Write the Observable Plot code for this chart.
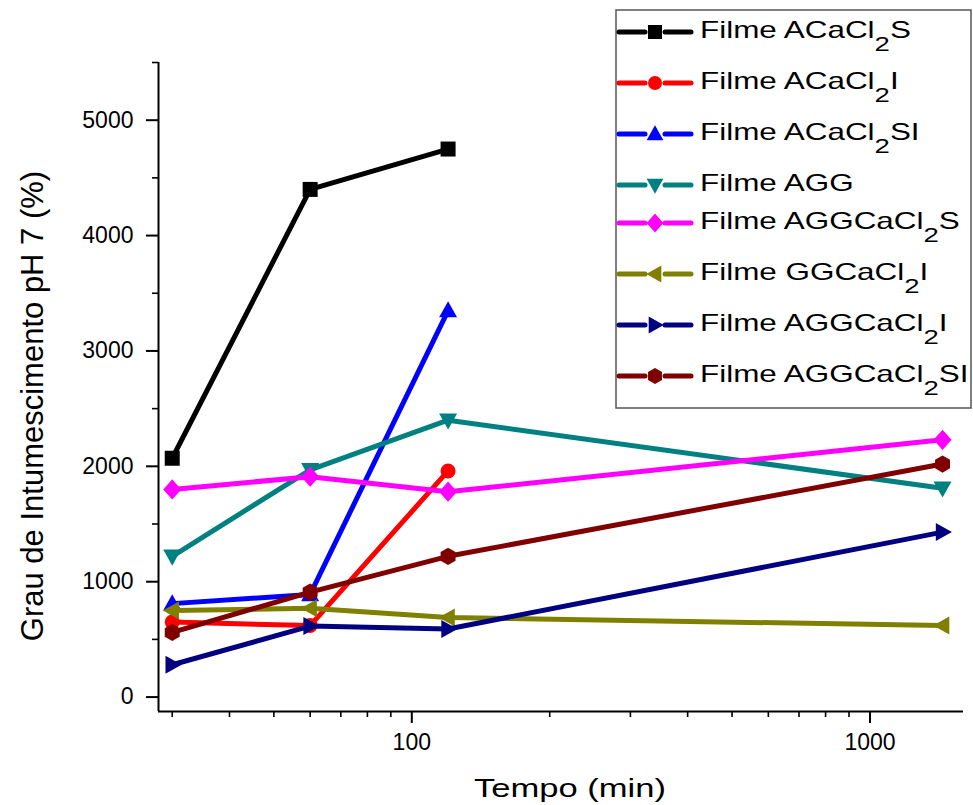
<!DOCTYPE html>
<html>
<head>
<meta charset="utf-8">
<script src="https://cdn.jsdelivr.net/npm/d3@7"></script>
<script src="https://cdn.jsdelivr.net/npm/@observablehq/plot@0.6"></script>
<style>
  html, body { margin: 0; padding: 0; background: #fff; }
  #chart { width: 973px; height: 805px; }
</style>
</head>
<body>
<div id="chart"></div>
<script>
// Swelling degree at pH 7 for each film, sampled at four times (min)
const times = [30, 60, 120, 1440];

const seriesNames = [
  "Filme ACaCl₂S",
  "Filme ACaCl₂I",
  "Filme ACaCl₂SI",
  "Filme AGG",
  "Filme AGGCaCl₂S",
  "Filme GGCaCl₂I",
  "Filme AGGCaCl₂I",
  "Filme AGGCaCl₂SI"
];

const aCaCl2S     = [2070, 4400, 4750, null];
const aCaCl2I     = [650, 620, 1960, null];
const aCaCl2SI    = [810, 890, 3350, null];
const agg         = [1220, 1970, 2400, 1810];
const aggCaCl2S   = [1800, 1910, 1780, 2230];
const ggCaCl2I    = [750, 770, 690, 620];
const aggCaCl2I   = [280, 615, 590, 1430];
const aggCaCl2SI  = [560, 910, 1220, 2020];

const seriesValues = [aCaCl2S, aCaCl2I, aCaCl2SI, agg, aggCaCl2S, ggCaCl2I, aggCaCl2I, aggCaCl2SI];

const seriesColors = ["#000000", "#ff0000", "#0000ff", "#008080", "#ff00ff", "#808000", "#000080", "#800000"];

// Axis ticks
const xMajorTicks = [100, 1000];
const xMinorTicks = [30, 40, 50, 60, 70, 80, 90, 200, 300, 400, 500, 600, 700, 800, 900];
const yMajorTicks = [0, 1000, 2000, 3000, 4000, 5000];
const yMinorTicks = [500, 1500, 2500, 3500, 4500, 5500];
const xDomain = [28, 1600];
const yDomain = [-125, 5500];

// Marker shapes (size is the symbol area, r derived from it)
const rOf = size => Math.sqrt(size / Math.PI);
function poly(ctx, pts) {
  ctx.moveTo(pts[0][0], pts[0][1]);
  for (let i = 1; i < pts.length; i++) ctx.lineTo(pts[i][0], pts[i][1]);
  ctx.closePath();
}
const symSquare = { draw(ctx, size) { const r = rOf(size); ctx.rect(-r, -r, 2 * r, 2 * r); } };
const symCircle = { draw(ctx, size) { const r = rOf(size); ctx.moveTo(r, 0); ctx.arc(0, 0, r, 0, 2 * Math.PI); } };
const symUp = { draw(ctx, size) { const r = rOf(size); poly(ctx, [[0, -1.25 * r], [1.2 * r, 0.9 * r], [-1.2 * r, 0.9 * r]]); } };
const symDown = { draw(ctx, size) { const r = rOf(size); poly(ctx, [[0, 1.25 * r], [1.2 * r, -0.9 * r], [-1.2 * r, -0.9 * r]]); } };
const symDiamond = { draw(ctx, size) { const r = rOf(size); poly(ctx, [[0, -1.35 * r], [1.2 * r, 0], [0, 1.35 * r], [-1.2 * r, 0]]); } };
const symLeft = { draw(ctx, size) { const r = rOf(size); poly(ctx, [[-1.25 * r, 0], [0.9 * r, -1.2 * r], [0.9 * r, 1.2 * r]]); } };
const symRight = { draw(ctx, size) { const r = rOf(size); poly(ctx, [[1.25 * r, 0], [-0.9 * r, -1.2 * r], [-0.9 * r, 1.2 * r]]); } };
const symHex = { draw(ctx, size) {
  const r = rOf(size) * 1.15;
  const pts = d3.range(6).map(i => { const a = Math.PI / 2 + i * Math.PI / 3; return [r * Math.cos(a), r * Math.sin(a)]; });
  poly(ctx, pts);
} };
const seriesSymbols = [symSquare, symCircle, symUp, symDown, symDiamond, symLeft, symRight, symHex];

// Tidy rows built from the arrays above
const rows = seriesNames.flatMap((name, i) =>
  times.map((t, j) => ({ name, t, v: seriesValues[i][j] })).filter(d => d.v != null)
);

const font = "'Liberation Sans', Arial, Helvetica, sans-serif";
const dotR = 7.5;

const seriesMarks = seriesNames.flatMap((name, i) => {
  const data = rows.filter(d => d.name === name);
  return [
    Plot.line(data, { x: "t", y: "v", stroke: seriesColors[i], strokeWidth: 5, strokeLinejoin: "round" }),
    Plot.dot(data, { x: "t", y: "v", symbol: seriesSymbols[i], r: dotR, fill: seriesColors[i], stroke: "none" })
  ];
});

const chart = Plot.plot({
  width: 973,
  height: 805,
  marginLeft: 158,
  marginRight: 10,
  marginTop: 62,
  marginBottom: 94,
  style: { fontFamily: font, fontSize: "23px", color: "#000", background: "#fff" },
  x: { type: "log", domain: xDomain, label: null },
  y: { domain: yDomain, label: null },
  marks: [
    Plot.axisX(xMinorTicks, { tickSize: 6, tickFormat: () => "", strokeWidth: 1.6, label: null }),
    Plot.axisX(xMajorTicks, { tickSize: 12, tickPadding: 10, tickFormat: d => String(d), strokeWidth: 2, label: null }),
    Plot.axisY(yMinorTicks, { tickSize: 6, tickFormat: () => "", strokeWidth: 1.6, label: null }),
    Plot.axisY(yMajorTicks, { tickSize: 12, tickPadding: 13, tickFormat: d => String(d), strokeWidth: 2, label: null }),
    Plot.ruleX([xDomain[0]], { stroke: "#000", strokeWidth: 2 }),
    Plot.ruleY([yDomain[0]], { stroke: "#000", strokeWidth: 2 }),
    ...seriesMarks
  ]
});

document.getElementById("chart").appendChild(chart);

const svg = d3.select(chart);

// Axis titles
svg.append("text")
  .attr("transform", "translate(570,797) scale(1.33,1)")
  .attr("text-anchor", "middle")
  .attr("font-family", font)
  .attr("font-size", 26)
  .attr("fill", "#000")
  .text("Tempo (min)");

svg.append("text")
  .attr("transform", "translate(43,406) rotate(-90)")
  .attr("text-anchor", "middle")
  .attr("font-family", font)
  .attr("font-size", 31)
  .attr("fill", "#000")
  .text("Grau de Intumescimento pH 7 (%)");

// Legend
const legend = svg.append("g");
legend.append("rect")
  .attr("x", 616).attr("y", 10).attr("width", 355).attr("height", 398)
  .attr("fill", "#fff").attr("stroke", "#555").attr("stroke-width", 1.5);

let cy = 32;
seriesNames.forEach((name, i) => {
  const g = legend.append("g").attr("transform", `translate(0,${cy})`);
  const c = seriesColors[i];
  g.append("line").attr("x1", 619).attr("x2", 645).attr("y1", 0).attr("y2", 0)
    .attr("stroke", c).attr("stroke-width", 5).attr("stroke-linecap", "round");
  g.append("line").attr("x1", 665).attr("x2", 691).attr("y1", 0).attr("y2", 0)
    .attr("stroke", c).attr("stroke-width", 5).attr("stroke-linecap", "round");
  g.append("path")
    .attr("transform", "translate(655,0)")
    .attr("d", d3.symbol(seriesSymbols[i], 7 * 7 * Math.PI)())
    .attr("fill", c);

  const parts = name.split("₂");
  const t = g.append("text")
    .attr("transform", "translate(700,6) scale(1.31,1)")
    .attr("text-anchor", "start")
    .attr("font-family", font)
    .attr("font-size", 24)
    .attr("fill", "#000");
  t.append("tspan").text(parts[0]);
  if (parts.length > 1) {
    t.append("tspan").attr("font-size", 21).attr("dy", 13).text("2");
    t.append("tspan").attr("dy", -13).text(parts[1]);
  }
  cy += parts.length > 1 ? 51 : 38;
});
</script>
</body>
</html>
